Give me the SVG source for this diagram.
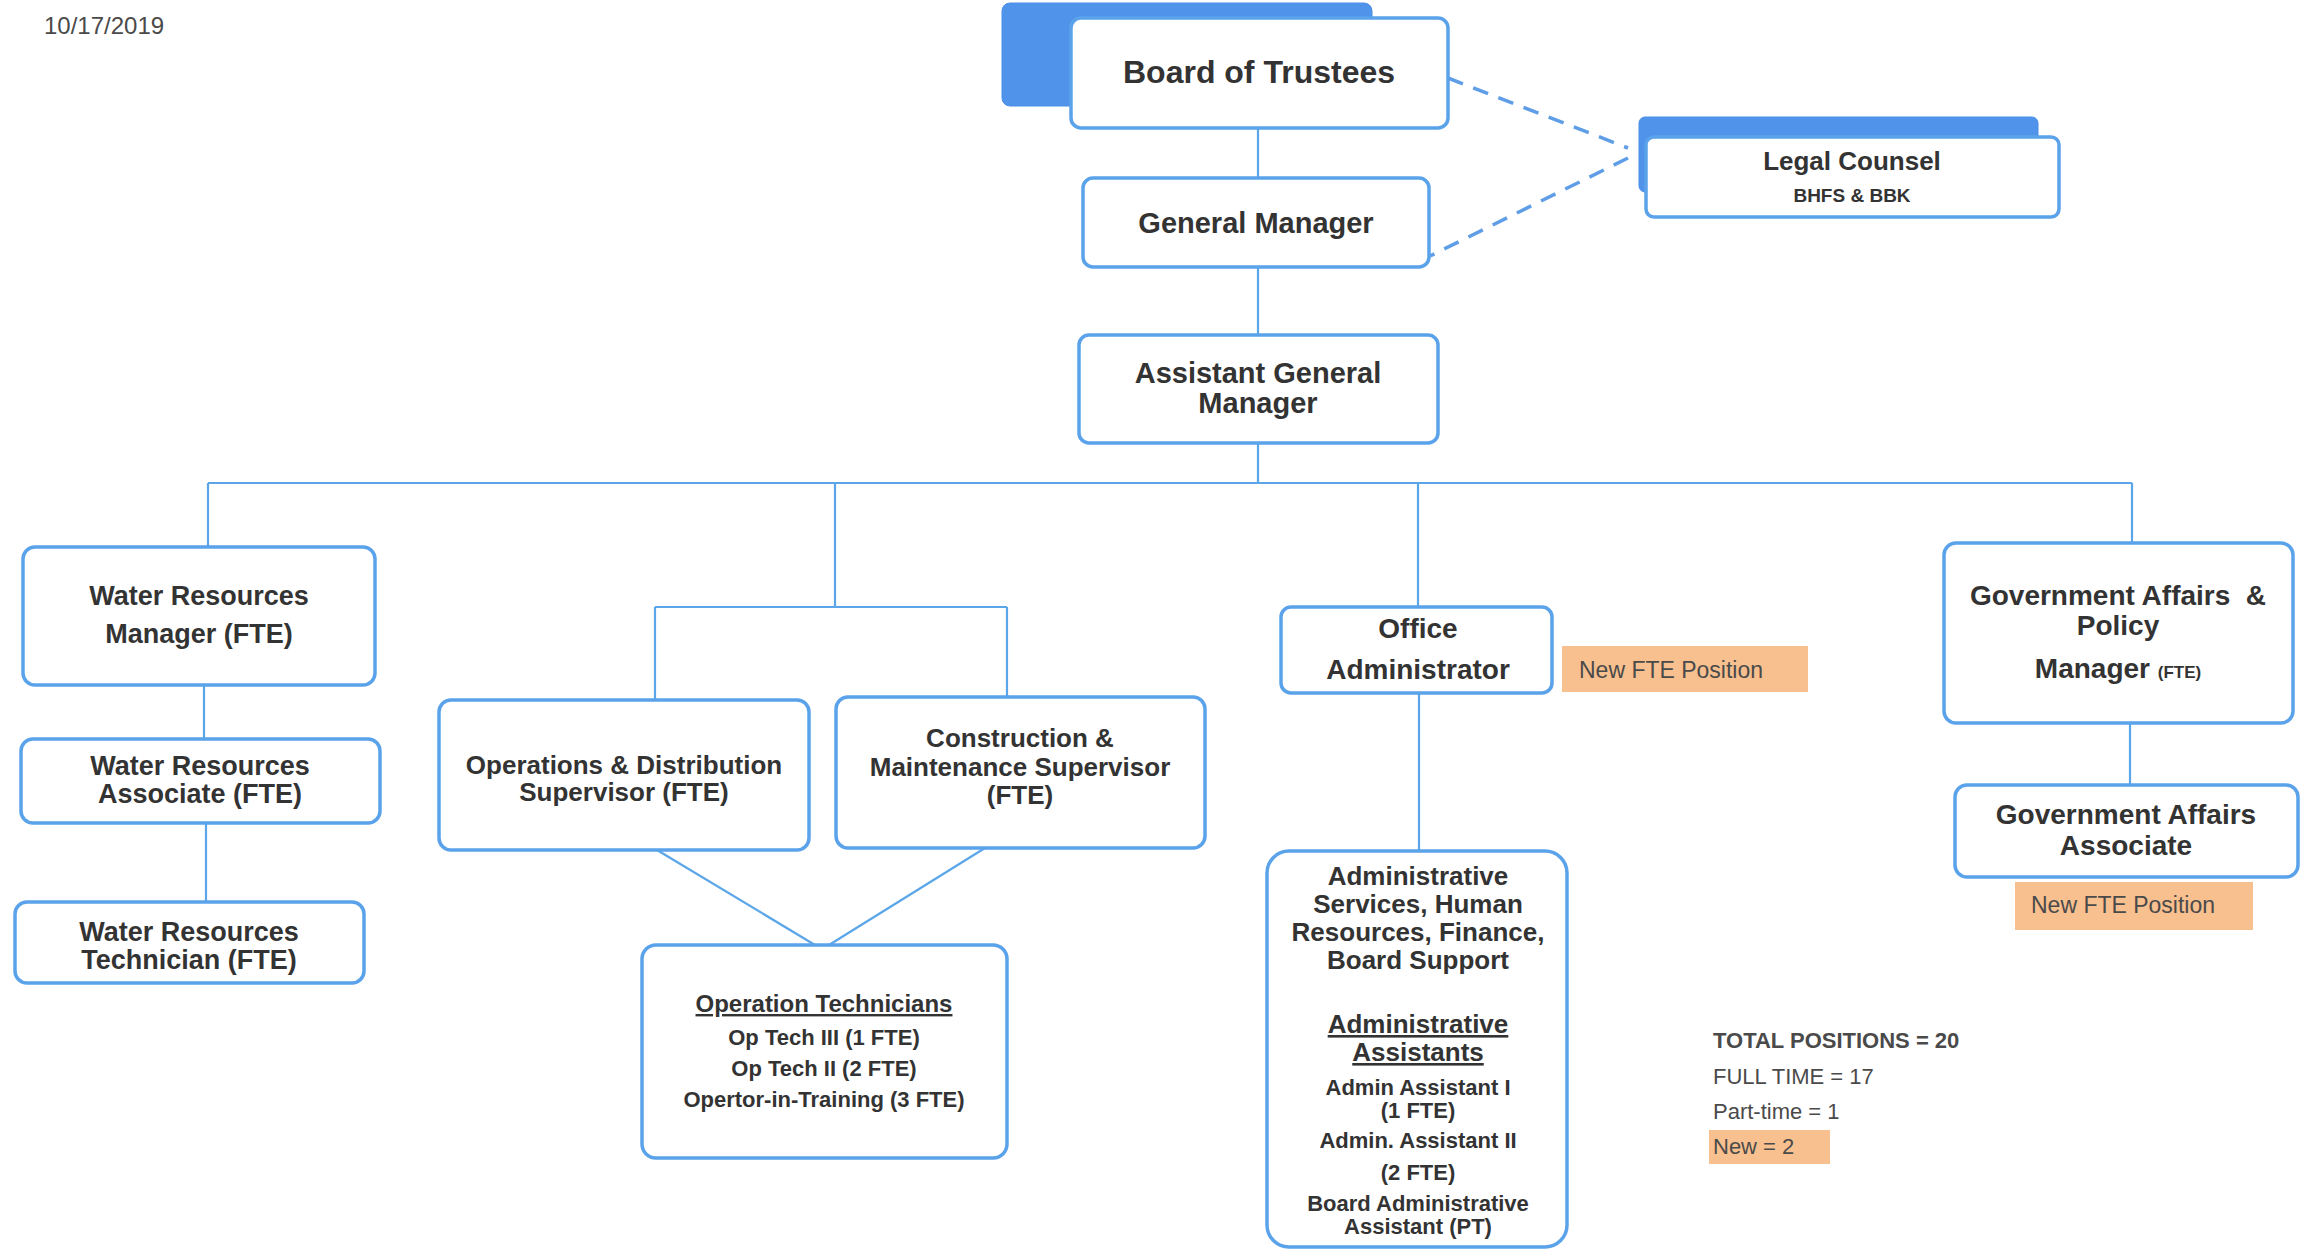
<svg xmlns="http://www.w3.org/2000/svg" width="2301" height="1250" viewBox="0 0 2301 1250">
<style>
.box{fill:#fff;stroke:#5aa2ea;stroke-width:3.5}
.shadow{fill:#4f94ea;stroke:#4a8fe6;stroke-width:1}
.conn{stroke:#5aa6e8;stroke-width:2.2;fill:none}
.dash{stroke:#5f9ee6;stroke-width:3.5;fill:none;stroke-dasharray:16 11}
.t{font-family:"Liberation Sans",Arial,sans-serif;font-weight:bold;fill:#333;text-anchor:middle}
.c{font-family:"Liberation Sans",Arial,sans-serif;fill:#4a4a4a}
.new{fill:#f8c08e}
.u{text-decoration:underline}
</style>
<rect width="2301" height="1250" fill="#fff"/>
<text class="c" x="44" y="34" font-size="24">10/17/2019</text>

<g id="connectors">
<path class="conn" d="M1258,128V178M1258,267V335M1258,443V483M208,483H2132M208,483V547M835,483V607M655,607H1007M655,607V700M1007,607V697M1418,483V607M2132,483V543M204,685V739M206,823V902M1419,693V851M2130,723V785M657,850L815,945M985,848L829,945"/>
<path class="dash" d="M1448,78L1628,148M1628,158L1430,256"/>
</g>

<g id="board">
<rect class="shadow" x="1002" y="3" width="370" height="103" rx="8"/>
<rect class="box" x="1071" y="18" width="377" height="110" rx="10"/>
<text class="t" x="1259" y="83" font-size="32">Board of Trustees</text>
</g>
<g id="gm">
<rect class="box" x="1083" y="178" width="346" height="89" rx="10"/>
<text class="t" x="1256" y="233" font-size="29">General Manager</text>
</g>
<g id="agm">
<rect class="box" x="1079" y="335" width="359" height="108" rx="10"/>
<text class="t" x="1258" y="383" font-size="29">Assistant General</text>
<text class="t" x="1258" y="413" font-size="29">Manager</text>
</g>
<g id="legal">
<rect class="shadow" x="1639" y="117" width="399" height="75" rx="6"/>
<rect class="box" x="1646" y="137" width="413" height="80" rx="8"/>
<text class="t" x="1852" y="170" font-size="26">Legal Counsel</text>
<text class="t" x="1852" y="202" font-size="19">BHFS &amp; BBK</text>
</g>
<g id="wrm">
<rect class="box" x="23" y="547" width="352" height="138" rx="12"/>
<text class="t" x="199" y="605" font-size="27">Water Resources</text>
<text class="t" x="199" y="643" font-size="27">Manager (FTE)</text>
</g>
<g id="wra">
<rect class="box" x="21" y="739" width="359" height="84" rx="12"/>
<text class="t" x="200" y="775" font-size="27">Water Resources</text>
<text class="t" x="200" y="803" font-size="27">Associate (FTE)</text>
</g>
<g id="wrt">
<rect class="box" x="15" y="902" width="349" height="81" rx="12"/>
<text class="t" x="189" y="941" font-size="27">Water Resources</text>
<text class="t" x="189" y="969" font-size="27">Technician (FTE)</text>
</g>
<g id="ops">
<rect class="box" x="439" y="700" width="370" height="150" rx="12"/>
<text class="t" x="624" y="774" font-size="26">Operations &amp; Distribution</text>
<text class="t" x="624" y="801" font-size="26">Supervisor (FTE)</text>
</g>
<g id="construction">
<rect class="box" x="836" y="697" width="369" height="151" rx="12"/>
<text class="t" x="1020" y="747" font-size="26">Construction &amp;</text>
<text class="t" x="1020" y="776" font-size="26">Maintenance Supervisor</text>
<text class="t" x="1020" y="804" font-size="26">(FTE)</text>
</g>
<g id="optech">
<rect class="box" x="642" y="945" width="365" height="213" rx="14"/>
<text class="t u" x="824" y="1012" font-size="24">Operation Technicians</text>
<text class="t" x="824" y="1045" font-size="22">Op Tech III (1 FTE)</text>
<text class="t" x="824" y="1076" font-size="22">Op Tech II (2 FTE)</text>
<text class="t" x="824" y="1107" font-size="22">Opertor-in-Training (3 FTE)</text>
</g>
<g id="office">
<rect class="box" x="1281" y="607" width="271" height="86" rx="10"/>
<text class="t" x="1418" y="638" font-size="28">Office</text>
<text class="t" x="1418" y="679" font-size="28">Administrator</text>
</g>
<g id="new1">
<rect class="new" x="1562" y="646" width="246" height="46"/>
<text class="c" x="1579" y="678" font-size="23">New FTE Position</text>
</g>
<g id="admin">
<rect class="box" x="1267" y="851" width="300" height="396" rx="22"/>
<text class="t" x="1418" y="885" font-size="26">Administrative</text>
<text class="t" x="1418" y="913" font-size="26">Services, Human</text>
<text class="t" x="1418" y="941" font-size="26">Resources, Finance,</text>
<text class="t" x="1418" y="969" font-size="26">Board Support</text>
<text class="t u" x="1418" y="1033" font-size="26">Administrative</text>
<text class="t u" x="1418" y="1061" font-size="26">Assistants</text>
<text class="t" x="1418" y="1095" font-size="22">Admin Assistant I</text>
<text class="t" x="1418" y="1118" font-size="22">(1 FTE)</text>
<text class="t" x="1418" y="1148" font-size="22">Admin. Assistant II</text>
<text class="t" x="1418" y="1180" font-size="22">(2 FTE)</text>
<text class="t" x="1418" y="1211" font-size="22">Board Administrative</text>
<text class="t" x="1418" y="1234" font-size="22">Assistant (PT)</text>
</g>
<g id="gapm">
<rect class="box" x="1944" y="543" width="349" height="180" rx="12"/>
<text class="t" x="2118" y="605" font-size="28" xml:space="preserve">Government Affairs  &amp;</text>
<text class="t" x="2118" y="635" font-size="28">Policy</text>
<text class="t" x="2118" y="678" font-size="28">Manager <tspan font-size="17">(FTE)</tspan></text>
</g>
<g id="gaa">
<rect class="box" x="1955" y="785" width="343" height="92" rx="12"/>
<text class="t" x="2126" y="824" font-size="28">Government Affairs</text>
<text class="t" x="2126" y="855" font-size="28">Associate</text>
</g>
<g id="new2">
<rect class="new" x="2015" y="882" width="238" height="48"/>
<text class="c" x="2031" y="913" font-size="23">New FTE Position</text>
</g>
<g id="totals">
<rect class="new" x="1709" y="1130" width="121" height="34"/>
<text class="c" x="1713" y="1048" font-size="22" font-weight="bold">TOTAL POSITIONS = 20</text>
<text class="c" x="1713" y="1084" font-size="22">FULL TIME = 17</text>
<text class="c" x="1713" y="1119" font-size="22">Part-time = 1</text>
<text class="c" x="1713" y="1154" font-size="22">New = 2</text>
</g>
</svg>
